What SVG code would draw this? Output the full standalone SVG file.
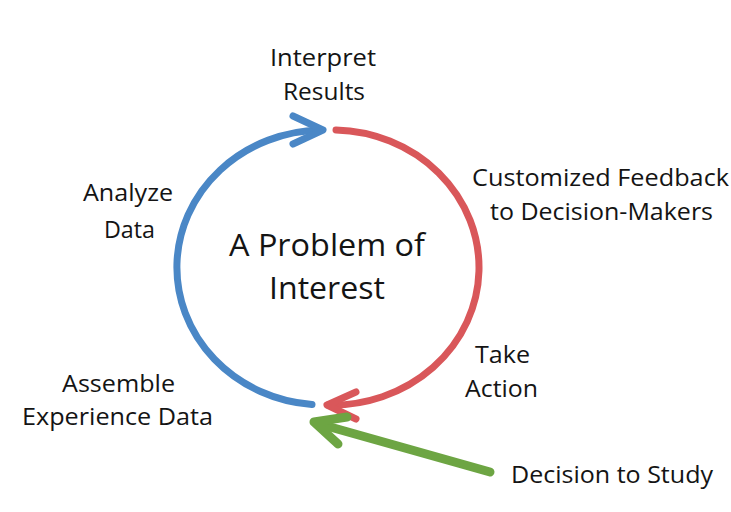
<svg xmlns="http://www.w3.org/2000/svg" width="731" height="512" viewBox="0 0 731 512">
<style>
text{font-family:"Open Sans","Noto Sans","Liberation Sans",sans-serif;fill:#141414;font-size:24px;text-anchor:middle;lengthAdjust:spacingAndGlyphs}
.big{font-size:31px}
.c{fill:none;stroke-linecap:round;stroke-linejoin:round}
.blue{stroke:#4a87c6;stroke-width:7}
.red{stroke:#d9575a;stroke-width:7}
.green{stroke:#6da543;stroke-width:9}
</style>
<rect width="731" height="512" fill="#fff"/>
<g id="connectors">
<path class="c blue" d="M312,404.5 A147,137.5 0 0 1 320,130"/>
<path class="c blue" d="M293,116 L323,130 L293,144"/>
<path class="c red" d="M336,130 A147,137.5 0 0 1 328,405"/>
<path class="c red" d="M356,392 L327,405 L356,419"/>
<path class="c green" d="M490,472 L316,423"/>
<path class="c green" d="M347,417 L314,422 L338,444"/>
</g>
<g id="center"><text class="big" x="327" y="256" textLength="196" lengthAdjust="spacingAndGlyphs">A Problem of</text><text class="big" x="327" y="299" textLength="116" lengthAdjust="spacingAndGlyphs">Interest</text></g>
<g id="interpret"><text x="323" y="66" textLength="106" lengthAdjust="spacingAndGlyphs">Interpret</text><text x="324" y="100" textLength="82" lengthAdjust="spacingAndGlyphs">Results</text></g>
<g id="analyze"><text x="128" y="201" textLength="90" lengthAdjust="spacingAndGlyphs">Analyze</text><text x="129.5" y="238" textLength="51" lengthAdjust="spacingAndGlyphs">Data</text></g>
<g id="feedback"><text x="600.5" y="186" textLength="257" lengthAdjust="spacingAndGlyphs">Customized Feedback</text><text x="601.5" y="220" textLength="223" lengthAdjust="spacingAndGlyphs">to Decision-Makers</text></g>
<g id="action"><text x="502.5" y="363" textLength="55" lengthAdjust="spacingAndGlyphs">Take</text><text x="501.5" y="397" textLength="73" lengthAdjust="spacingAndGlyphs">Action</text></g>
<g id="assemble"><text x="118.5" y="392" textLength="113" lengthAdjust="spacingAndGlyphs">Assemble</text><text x="117.5" y="425" textLength="191" lengthAdjust="spacingAndGlyphs">Experience Data</text></g>
<g id="decision"><text x="612" y="483" textLength="202" lengthAdjust="spacingAndGlyphs">Decision to Study</text></g>
</svg>
